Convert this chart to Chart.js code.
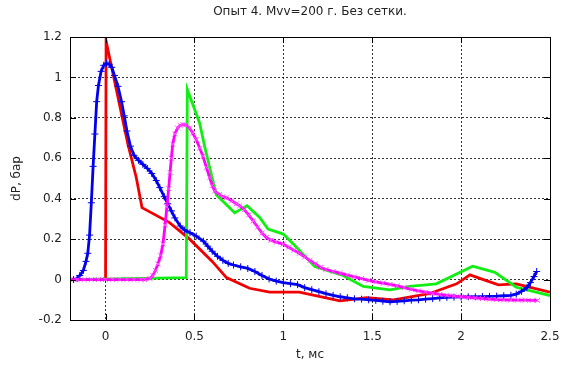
<!DOCTYPE html>
<html>
<head>
<meta charset="utf-8">
<script src="https://cdn.jsdelivr.net/npm/chart.js@4/dist/chart.umd.min.js"></script>
<style>
html,body{margin:0;padding:0;background:#fff;}
#wrap{width:563px;height:366px;}
</style>
</head>
<body>
<div id="wrap"><canvas id="c" width="563" height="366"></canvas></div>
<script>
const chartTitle = "Опыт 4. Mvv=200 г. Без сетки.";
const xTitle = "t, мс";
const yTitle = "dP, бар";
const xTicks = [0, 0.5, 1, 1.5, 2, 2.5];
const yTicks = [-0.2, 0, 0.2, 0.4, 0.6, 0.8, 1, 1.2];

const redT = [-0.2, 0, 0.003, 0.126, 0.173, 0.205, 0.36, 0.473, 0.6, 0.68, 0.81, 0.923, 1.09, 1.318, 1.468, 1.62, 1.82, 1.975, 2.05, 2.125, 2.21, 2.31, 2.5];
const redV = [0, 0, 1.18, 0.668, 0.504, 0.356, 0.282, 0.2, 0.09, 0.01, -0.043, -0.062, -0.062, -0.105, -0.09, -0.1, -0.07, -0.021, 0.023, 0.0, -0.026, -0.021, -0.062];

const greenT = [-0.2, 0.454, 0.46, 0.529, 0.557, 0.595, 0.623, 0.726, 0.796, 0.867, 0.914, 1.0, 1.074, 1.177, 1.336, 1.45, 1.6, 1.71, 1.86, 2.065, 2.19, 2.31, 2.5];
const greenV = [0, 0.01, 0.94, 0.775, 0.66, 0.52, 0.42, 0.33, 0.365, 0.307, 0.25, 0.225, 0.16, 0.064, 0.02, -0.034, -0.051, -0.034, -0.021, 0.066, 0.036, -0.038, -0.079];

const blueT = [-0.2, -0.18, -0.16, -0.145, -0.125, -0.11, -0.1, -0.09, -0.08, -0.07, -0.06, -0.05, -0.04, -0.025, -0.01, 0.005, 0.02, 0.035, 0.05, 0.07, 0.09, 0.105, 0.12, 0.14, 0.16, 0.185, 0.21, 0.235, 0.26, 0.285, 0.305, 0.33, 0.35, 0.37, 0.39, 0.42, 0.445, 0.475, 0.51, 0.55, 0.575, 0.6, 0.63, 0.66, 0.69, 0.72, 0.76, 0.8, 0.84, 0.88, 0.92, 0.96, 1.0, 1.04, 1.08, 1.12, 1.16, 1.2, 1.24, 1.28, 1.32, 1.36, 1.4, 1.44, 1.48, 1.52, 1.56, 1.6, 1.64, 1.68, 1.72, 1.76, 1.8, 1.84, 1.88, 1.92, 1.96, 2.0, 2.04, 2.08, 2.12, 2.16, 2.2, 2.24, 2.28, 2.31, 2.34, 2.37, 2.39, 2.41, 2.425];
const blueV = [0, 0, 0.005, 0.02, 0.045, 0.09, 0.13, 0.22, 0.38, 0.56, 0.72, 0.88, 0.96, 1.03, 1.06, 1.07, 1.065, 1.05, 1.01, 0.956, 0.88, 0.81, 0.735, 0.66, 0.615, 0.59, 0.57, 0.55, 0.525, 0.49, 0.455, 0.41, 0.375, 0.34, 0.305, 0.265, 0.245, 0.232, 0.215, 0.19, 0.165, 0.14, 0.115, 0.095, 0.08, 0.072, 0.063, 0.055, 0.04, 0.02, 0.003, -0.008, -0.015, -0.02, -0.025, -0.04, -0.05, -0.06, -0.07, -0.078, -0.085, -0.09, -0.095, -0.097, -0.1, -0.103, -0.107, -0.11, -0.108, -0.105, -0.102, -0.1, -0.097, -0.094, -0.091, -0.088, -0.087, -0.086, -0.085, -0.085, -0.084, -0.083, -0.082, -0.08, -0.078, -0.072, -0.058, -0.04, -0.015, 0.015, 0.04];

const magT = [-0.2, -0.16, -0.12, -0.08, -0.04, 0, 0.04, 0.08, 0.12, 0.16, 0.2, 0.22, 0.25, 0.266, 0.28, 0.295, 0.31, 0.323, 0.335, 0.345, 0.355, 0.363, 0.37, 0.378, 0.39, 0.405, 0.42, 0.435, 0.45, 0.473, 0.49, 0.51, 0.53, 0.548, 0.567, 0.586, 0.6, 0.614, 0.64, 0.66, 0.68, 0.71, 0.735, 0.755, 0.78, 0.805, 0.83, 0.855, 0.88, 0.905, 0.93, 0.96, 0.998, 1.03, 1.06, 1.09, 1.12, 1.15, 1.18, 1.21, 1.24, 1.28, 1.32, 1.36, 1.4, 1.44, 1.48, 1.52, 1.56, 1.6, 1.64, 1.68, 1.72, 1.76, 1.8, 1.84, 1.88, 1.92, 1.96, 2.0, 2.04, 2.08, 2.12, 2.16, 2.2, 2.24, 2.28, 2.32, 2.36, 2.4, 2.43];
const magV = [0, 0, 0, 0, 0, 0, 0, 0, 0, 0, 0, 0, 0.005, 0.02, 0.045, 0.077, 0.12, 0.176, 0.27, 0.36, 0.45, 0.53, 0.6, 0.67, 0.72, 0.75, 0.762, 0.767, 0.765, 0.75, 0.725, 0.693, 0.65, 0.61, 0.555, 0.504, 0.465, 0.438, 0.42, 0.41, 0.405, 0.39, 0.375, 0.365, 0.345, 0.32, 0.29, 0.26, 0.23, 0.208, 0.195, 0.185, 0.176, 0.16, 0.145, 0.13, 0.112, 0.095, 0.078, 0.06, 0.05, 0.04, 0.032, 0.022, 0.013, 0.005, -0.004, -0.012, -0.018, -0.024, -0.031, -0.04, -0.048, -0.056, -0.062, -0.068, -0.073, -0.078, -0.082, -0.085, -0.088, -0.091, -0.094, -0.097, -0.099, -0.1, -0.101, -0.102, -0.102, -0.103, -0.103];

function pts(t, v) { return t.map((x, i) => ({x: x, y: v[i]})); }

const FONT = "'DejaVu Sans', Verdana, sans-serif";

const frame = {
  id: 'frame',
  afterDraw(chart) {
    const ctx = chart.ctx, a = chart.chartArea;
    const xs = chart.scales.x, ys = chart.scales.y;
    ctx.save();
    ctx.strokeStyle = '#000';
    ctx.lineWidth = 1;
    ctx.strokeRect(Math.round(a.left) + 0.5, Math.round(a.top) + 0.5, Math.round(a.right - a.left), Math.round(a.bottom - a.top));
    ctx.beginPath();
    const L = 6;
    xTicks.forEach(v => {
      const px = Math.round(xs.getPixelForValue(v)) + 0.5;
      ctx.moveTo(px, a.bottom); ctx.lineTo(px, a.bottom - L);
      ctx.moveTo(px, a.top); ctx.lineTo(px, a.top + L);
    });
    yTicks.forEach(v => {
      const py = Math.round(ys.getPixelForValue(v)) + 0.5;
      ctx.moveTo(a.left, py); ctx.lineTo(a.left + L, py);
      ctx.moveTo(a.right, py); ctx.lineTo(a.right - L, py);
    });
    ctx.stroke();
    ctx.fillStyle = '#222';
    ctx.font = '12px ' + FONT;
    ctx.textAlign = 'center';
    ctx.textBaseline = 'middle';
    ctx.fillText(chartTitle, (a.left + a.right) / 2, 12);
    ctx.fillText(xTitle, (a.left + a.right) / 2, 355);
    ctx.translate(17, (a.top + a.bottom) / 2);
    ctx.rotate(-Math.PI / 2);
    ctx.fillText(yTitle, 0, 0);
    ctx.restore();
  }
};

const gridOpts = {
  color: 'rgba(0,0,0,0.8)',
  lineWidth: 1,
  drawTicks: false
};

new Chart(document.getElementById('c'), {
  type: 'scatter',
  data: {
    datasets: [
      { label: 'red', data: pts(redT, redV), showLine: true, borderColor: '#f00000', borderWidth: 2.8, pointRadius: 0, order: 4 },
      { label: 'green', data: pts(greenT, greenV), showLine: true, borderColor: '#11ee11', borderWidth: 2.8, pointRadius: 0, order: 3 },
      { label: 'blue', data: pts(blueT, blueV), showLine: true, borderColor: '#0000ee', borderWidth: 2.8, pointStyle: 'cross', pointRadius: 3.5, pointBorderWidth: 1, pointBorderColor: '#0000ee', pointBackgroundColor: '#0000ee', order: 2 },
      { label: 'magenta', data: pts(magT, magV), showLine: true, borderColor: '#ff00ff', borderWidth: 2.8, pointStyle: 'crossRot', pointRadius: 3.5, pointBorderWidth: 1, pointBorderColor: '#ff55ff', pointBackgroundColor: '#ff55ff', order: 1 }
    ]
  },
  options: {
    responsive: false,
    animation: false,
    events: [],
    layout: { padding: { left: 0, top: 37, right: 13, bottom: 0 } },
    plugins: { legend: { display: false }, title: { display: false }, tooltip: { enabled: false } },
    elements: { line: { tension: 0 } },
    scales: {
      x: {
        type: 'linear', min: -0.2, max: 2.5,
        afterBuildTicks: s => { s.ticks = xTicks.map(v => ({value: v})); },
        afterFit: s => { s.height = 46; s.paddingLeft = 0; s.paddingRight = 0; },
        grid: gridOpts,
        border: { display: false, dash: [2, 2] },
        ticks: { color: '#222', font: { family: FONT, size: 12 }, padding: 10, maxRotation: 0, callback: v => String(Number(v.toFixed(1))) }
      },
      y: {
        type: 'linear', min: -0.2, max: 1.2,
        afterBuildTicks: s => { s.ticks = yTicks.map(v => ({value: v})); },
        afterFit: s => { s.width = 70; s.paddingTop = 0; s.paddingBottom = 0; },
        grid: gridOpts,
        border: { display: false, dash: [2, 2] },
        ticks: { color: '#222', font: { family: FONT, size: 12 }, padding: 8, callback: v => String(Number(v.toFixed(1))) }
      }
    }
  },
  plugins: [frame]
});
</script>
</body>
</html>
